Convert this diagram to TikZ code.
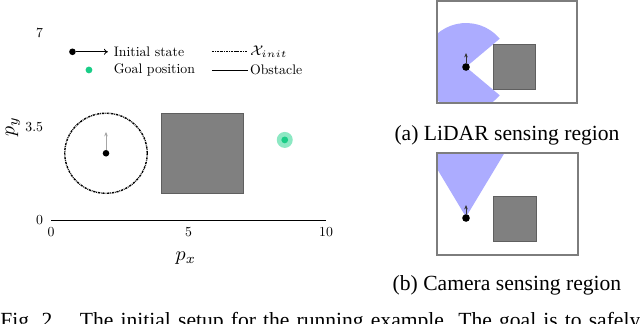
\documentclass[tikz,border=0pt]{standalone}
\usepackage{fontspec}
\newfontfamily\capfont{Liberation Serif}
\newfontfamily\plotfont[Extension=.otf]{lmroman10-regular}
\usetikzlibrary{arrows.meta, positioning}
\definecolor{cObs}{RGB}{128,128,128}
\definecolor{cObsLine}{RGB}{95,95,95}
\definecolor{cFrame}{RGB}{125,125,125}
\definecolor{cSense}{RGB}{172,172,255}
\definecolor{cGoal}{RGB}{25,205,135}
\definecolor{cFillGoal}{RGB}{140,232,195}
\tikzset{
  %% texts
  plottext/.style={font=\plotfont\fontsize{6.9}{8}\selectfont, inner sep=1pt},
  axislabel/.style={font=\fontsize{10}{11}\selectfont, inner sep=1pt},
  captext/.style={font=\capfont\fontsize{10.8}{12}\selectfont, inner sep=0pt},
  %% obstacles and frames
  obstacle/.style={draw=cObsLine, fill=cObs, line width=0.4pt},
  frame/.style={draw=cFrame, line width=0.6pt},
  sensing/.style={fill=cSense, draw=none},
  %% robot and heading
  robot/.style={circle, fill=black, inner sep=0pt, minimum size=3.3pt},
  robotR/.style={robot, minimum size=3.8pt},
  heading/.style={-{Stealth[length=2.2pt, width=1.8pt]}, draw=gray!70, line width=0.4pt},
  legarrow/.style={-{To[length=2pt, width=3pt]}, line width=0.4pt},
  %% goal marker
  goalin/.style={circle, fill=cGoal, inner sep=0pt, minimum size=3.4pt},
  goalout/.style={circle, fill=cFillGoal, inner sep=0pt, minimum size=8pt},
  %% initial set line
  initset/.style={dash pattern=on 1.1pt off 0.45pt on 0.35pt off 0.45pt, line width=0.7pt},
}

\begin{document}
\begin{tikzpicture}[x=0.5pt, y=-0.5pt]
\useasboundingbox (0,0) rectangle (640,323);

%% ============================================================
%%  LEFT: running example in data coordinates
%% ============================================================
\begin{scope}[shift={(51,220)}, x=13.75pt, y=13.35pt]
  %% axis and ticks
  \draw[line width=0.4pt] (0,0) -- (10,0);
  \node[plottext] (tx0)  at (0,-0.45)  {0};
  \node[plottext] (tx5)  at (5,-0.45)  {5};
  \node[plottext] (tx10) at (10,-0.45) {10};
  \node[plottext, anchor=east] (ty0)  at (-0.2,0)   {0};
  \node[plottext, anchor=east] (ty35) at (-0.2,3.5) {3.5};
  \node[plottext, anchor=east] (ty7)  at (-0.2,7)   {7};
  \node[axislabel] (xlab) at (4.9,-1.42) {$p_x$};
  \node[axislabel, rotate=90] (ylab) at (-1.38,3.5) {$p_y$};

  %% legend
  \node[robot] (legRobot) at (0.78,6.3) {};
  \coordinate (legHead) at (2.07,6.3);
  \draw[legarrow] (legRobot) -- (legHead);
  \node[plottext, anchor=west] (legInit) at (2.2,6.3) {Initial state};
  \node[goalin] (legGoal) at (1.38,5.62) {};
  \node[plottext, anchor=west] (legGoalTxt) at (2.2,5.62) {Goal position};
  \coordinate (legSetA) at (5.85,6.3);
  \coordinate (legSetB) at (7.15,6.3);
  \draw[initset] (legSetA) -- (legSetB);
  \node[plottext, anchor=west] (legSet) at (7.15,6.3) {$\mathcal{X}_{init}$};
  \coordinate (legObsA) at (5.85,5.62);
  \coordinate (legObsB) at (7.15,5.62);
  \draw[line width=0.4pt] (legObsA) -- (legObsB);
  \node[plottext, anchor=west] (legObs) at (7.15,5.62) {Obstacle};

  %% initial set, obstacle, goal
  \draw[initset] (2,2.5) circle[radius=1.5];
  \draw[obstacle] (4,1) rectangle (7,4);
  \node[goalout] (goalA) at (8.5,3) {};
  \node[goalin]  (goalB) at (8.5,3) {};
  \node[robot] (robot) at (2,2.5) {};
  \coordinate (head) at (2,3.3);
  \draw[heading] (robot) -- (head);
\end{scope}

%% ============================================================
%%  RIGHT (a): LiDAR sensing region
%% ============================================================
\begin{scope}
  \clip (437,1) rectangle (577,103);
  \fill[sensing] (466,67) -- ++(40:44) arc[start angle=40, end angle=320, radius=44] -- cycle;
\end{scope}
\draw[frame] (437,1) rectangle (577,103);
\draw[obstacle] (493,44) rectangle (535,89);
\node[robotR] (robotA) at (466,67) {};
\coordinate (headA) at (466,53);
\draw[heading, draw=black!80] (robotA) -- (headA);
\node[captext] (capA) at (507,135) {(a) LiDAR sensing region};

%% ============================================================
%%  RIGHT (b): camera sensing region
%% ============================================================
\begin{scope}
  \clip (437,153) rectangle (578,255);
  \fill[sensing] (466,217) -- +(239:110) -- +(301:110) -- cycle;
\end{scope}
\draw[frame] (437,153) rectangle (578,255);
\draw[obstacle] (493,196) rectangle (536,241);
\node[robotR] (robotB) at (466,218) {};
\coordinate (headB) at (466,205);
\draw[heading, draw=black!80] (robotB) -- (headB);
\node[captext] (capB) at (507,285) {(b) Camera sensing region};

%% ============================================================
%%  Figure caption (cut by the page edge)
%% ============================================================
\begin{scope}
  \clip (0,0) rectangle (640,323);
  \node[captext, anchor=base west] (figcap) at (0,327.5)
    {\spaceskip=3.55pt Fig.~2.\hspace{11pt}The initial setup for the running example. The goal is to safely};
\end{scope}

\end{tikzpicture}
\end{document}
